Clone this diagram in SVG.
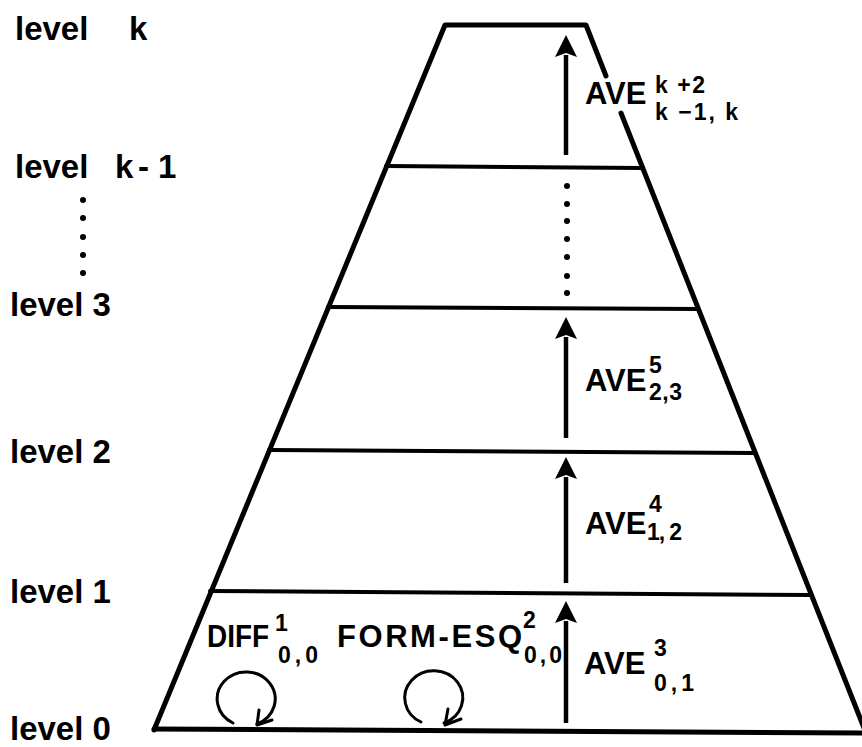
<svg xmlns="http://www.w3.org/2000/svg" width="862" height="747" viewBox="0 0 862 747">
  <style>
    .edge { stroke: #000; stroke-width: 5; fill: none; stroke-linecap: round; stroke-linejoin: round; }
    .lvl { stroke: #000; stroke-width: 4; fill: none; stroke-linecap: round; }
    .arr { stroke: #000; stroke-width: 4.5; fill: none; marker-end: url(#head); }
    .loop { stroke: #000; stroke-width: 3; fill: none; stroke-linecap: round; stroke-linejoin: round; }
    .lab { font-family: "Liberation Sans", Arial, sans-serif; font-weight: bold; font-size: 33px; fill: #000; }
    .main { font-family: "Liberation Sans", Arial, sans-serif; font-weight: bold; font-size: 31px; fill: #000; }
    .scr { font-family: "Liberation Sans", Arial, sans-serif; font-weight: bold; font-size: 23px; fill: #000; }
    .dot { fill: #000; }
  </style>
  <defs>
    <marker id="head" markerUnits="userSpaceOnUse" markerWidth="24" markerHeight="24" viewBox="0 0 24 24" refX="2" refY="12" orient="auto">
      <path d="M0,1 L22,12 L0,23 L4,12 z" fill="#000"/>
    </marker>
  </defs>
  <rect width="862" height="747" fill="#fff"/>

  <g id="pyramid">
    <path class="edge" d="M154,730 L445,25 L586,25 L606,76"/>
    <path class="edge" d="M621,113 L866,733"/>
    <path class="lvl" d="M386,166 L642,168"/>
    <path class="lvl" d="M328,307 L698,309"/>
    <path class="lvl" d="M269,450 L755,453"/>
    <path class="lvl" d="M210,591 L811,595"/>
    <path class="edge" d="M154,729 L866,733"/>
  </g>

  <g id="level-labels">
    <g id="level-k"><text class="lab" x="15" y="40">level<tspan x="129">k</tspan></text></g>
    <g id="level-k-1"><text class="lab" x="15" y="178">level<tspan x="115">k</tspan><tspan x="138">-</tspan><tspan x="158">1</tspan></text></g>
    <g id="level-dots">
      <circle class="dot" cx="83" cy="200" r="3"/>
      <circle class="dot" cx="83" cy="218" r="3"/>
      <circle class="dot" cx="83" cy="237" r="3"/>
      <circle class="dot" cx="83" cy="255" r="3"/>
      <circle class="dot" cx="83" cy="273" r="3"/>
    </g>
    <g id="level-3"><text class="lab" x="10" y="316">level 3</text></g>
    <g id="level-2"><text class="lab" x="10" y="463">level 2</text></g>
    <g id="level-1"><text class="lab" x="10" y="603">level 1</text></g>
    <g id="level-0"><text class="lab" x="10" y="740">level 0</text></g>
  </g>

  <g id="connectors">
    <path class="arr" d="M566,155 L566,55"/>
    <g id="dotted">
      <circle class="dot" cx="567" cy="186" r="3"/>
      <circle class="dot" cx="567" cy="204" r="3"/>
      <circle class="dot" cx="567" cy="221" r="3"/>
      <circle class="dot" cx="567" cy="239" r="3"/>
      <circle class="dot" cx="567" cy="257" r="3"/>
      <circle class="dot" cx="567" cy="276" r="3"/>
      <circle class="dot" cx="567" cy="293" r="3"/>
    </g>
    <path class="arr" d="M566,438 L566,337"/>
    <path class="arr" d="M566,583 L566,477"/>
    <path class="arr" d="M566,723 L566,621"/>
    <g id="loop-diff">
      <path class="loop" d="M233,723 A29,27 0 1 1 257,724"/>
      <path class="loop" d="M259,710 L257,725 L272,720"/>
    </g>
    <g id="loop-form">
      <path class="loop" d="M421,722 A29,27 0 1 1 444,723"/>
      <path class="loop" d="M448,709 L445,725 L461,719"/>
    </g>
  </g>

  <g id="ave-k">
    <text class="main" x="585" y="104">AVE</text>
    <text class="scr" x="655" y="93" textLength="50" lengthAdjust="spacing">k +2</text>
    <text class="scr" x="655" y="120" textLength="83" lengthAdjust="spacing">k −1, k</text>
  </g>
  <g id="ave-23">
    <text class="main" x="585" y="391">AVE</text>
    <text class="scr" x="649" y="373">5</text>
    <text class="scr" x="649" y="400" textLength="33" lengthAdjust="spacing">2,3</text>
  </g>
  <g id="ave-12">
    <text class="main" x="585" y="534">AVE</text>
    <text class="scr" x="649" y="512">4</text>
    <text class="scr" x="647" y="540" textLength="35" lengthAdjust="spacing">1, 2</text>
  </g>
  <g id="ave-01">
    <text class="main" x="584" y="674">AVE</text>
    <text class="scr" x="654" y="656">3</text>
    <text class="scr" x="654" y="691" textLength="40" lengthAdjust="spacing">0,1</text>
  </g>
  <g id="diff">
    <text class="main" x="207" y="647" textLength="62" lengthAdjust="spacingAndGlyphs">DIFF</text>
    <text class="scr" x="275" y="631">1</text>
    <text class="scr" x="278" y="663" textLength="40" lengthAdjust="spacing">0,0</text>
  </g>
  <g id="form-esq">
    <text class="main" x="337" y="647" textLength="185" lengthAdjust="spacing">FORM-ESQ</text>
    <text class="scr" x="523" y="628">2</text>
    <text class="scr" x="524" y="663" textLength="38" lengthAdjust="spacing">0,0</text>
  </g>
</svg>
